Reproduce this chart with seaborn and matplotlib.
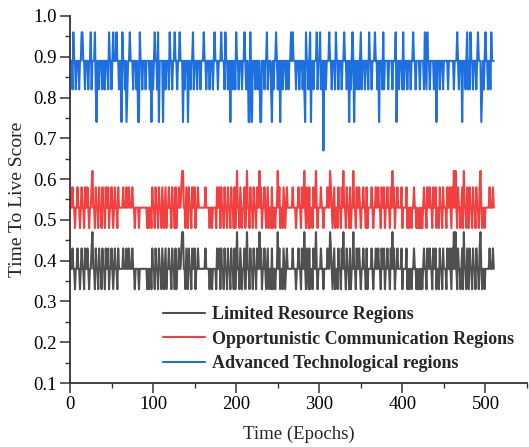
import numpy as np
import pandas as pd
import matplotlib
matplotlib.use("Agg")
import matplotlib.pyplot as plt
from matplotlib.ticker import MultipleLocator
import seaborn as sns

# ---- data (level codes per epoch) ----
series_names = ["Limited Resource Regions",
                "Opportunistic Communication Regions",
                "Advanced Technological regions"]

# level values for each code
limited_levels = [0.33, 0.38, 0.43, 0.47]
opportunistic_levels = [0.48, 0.53, 0.58, 0.62]
advanced_levels = [0.74, 0.82, 0.89, 0.96, 0.67]

limited_codes = (
    "1121101121" "1012110211" "2101123110" "2110211021" "1021120112"
    "1012110211" "1112111211" "2111211011" "1101111111" "1101011021"
    "1021102110" "2101201121" "1021102011" "2112331102" "1021102112"
    "0112111111" "1121111011" "0111102112" "0211021102" "1102110201"
    "3110210112" "0131102110" "2110211312" "0112101201" "1020110113"
    "1201102101" "2111111211" "1011211021" "1310210201" "1021131011"
    "1211011112" "1132101201" "1021102131" "1021102011" "3110211210"
    "1121102011" "1121011211" "2110211201" "1211021312" "0112111120"
    "1111201011" "0112110100" "1010121102" "1121102112" "0110211021"
    "1102112102" "1313102110" "1203110210" "2110211021" "1023101101"
    "1111211121"
)
opportunistic_codes = limited_codes  # same pattern

advanced_codes = (
    "2213221222" "1223322122" "2122312223" "1022122212" "2122213221"
    "2322232212" "2032212012" "2322212221" "2003221222" "1222212021"
    "2322130222" "2022122213" "2212232212" "2322202122" "2022122312"
    "2212221222" "3221222122" "2123222122" "2322213221" "2202212213"
    "2212221223" "2122003102" "2212212200" "2221223122" "2102122321"
    "2202212221" "2212232322" "2122212221" "2103221230" "2212223122"
    "3122422122" "2322122213" "2212221223" "2212202123" "2022122123"
    "1222122213" "2212223221" "2022213122" "2212222122" "2302212221"
    "3122212221" "2232212222" "1222213213" "2212222122" "0222122212"
    "2222122222" "2122232122" "2022212312" "1322122212" "3222012123"
    "2212213222"
)

limited = [limited_levels[int(c)] for c in limited_codes]
opportunistic = [opportunistic_levels[int(c)] for c in opportunistic_codes]
advanced = [advanced_levels[int(c)] for c in advanced_codes]
epochs = list(range(1, len(limited) + 1))

colors = ["#505050", "#F23F3F", "#1E6FE0"]

# ---- figure ----
sns.set_style("ticks")
plt.rcParams["font.family"] = ["Liberation Serif", "DejaVu Serif"]
plt.rcParams["axes.linewidth"] = 1.3

fig = plt.figure(figsize=(5.29, 4.47), dpi=100)
ax = fig.add_axes([70 / 529, 1 - 383 / 447, 457 / 529, 367 / 447])

for name, vals, col in zip(series_names, [limited, opportunistic, advanced], colors):
    df = pd.DataFrame({"epoch": epochs[:len(vals)], "score": vals})
    sns.lineplot(data=df, x="epoch", y="score", color=col, linewidth=1.5,
                 label=name, ax=ax)

ax.set_xlim(0, 550)
ax.set_ylim(0.1, 1.0)
ax.xaxis.set_major_locator(MultipleLocator(100))
ax.xaxis.set_minor_locator(MultipleLocator(50))
ax.yaxis.set_major_locator(MultipleLocator(0.1))
ax.yaxis.set_minor_locator(MultipleLocator(0.05))
ax.tick_params(axis="both", which="major", direction="out", length=7, width=1.1,
               pad=2.5, labelsize=13.5, colors="#333333", labelcolor="black")
ax.tick_params(axis="both", which="minor", direction="out", length=3.5, width=1.0,
               colors="#333333")
ax.set_yticks(ax.get_yticks())
ax.set_yticklabels([f"{v:.1f}" for v in ax.get_yticks()])
ax.set_ylim(0.1, 1.0)
for s in ["top", "right"]:
    ax.spines[s].set_visible(False)
for s in ["left", "bottom"]:
    ax.spines[s].set_color("#333333")

ax.set_xlabel("Time (Epochs)", fontsize=13.5, labelpad=9)
ax.set_ylabel("Time To Live Score", fontsize=14, labelpad=5)

leg = ax.legend(loc="upper left", bbox_to_anchor=(0.2035, 0.21), frameon=False,
                borderpad=0, borderaxespad=0, handlelength=2.3, handletextpad=0.4,
                labelspacing=0.42, prop={"weight": "bold", "size": 13})
for line in leg.get_lines():
    line.set_linewidth(1.5)

fig.savefig("out.png", dpi=100)
